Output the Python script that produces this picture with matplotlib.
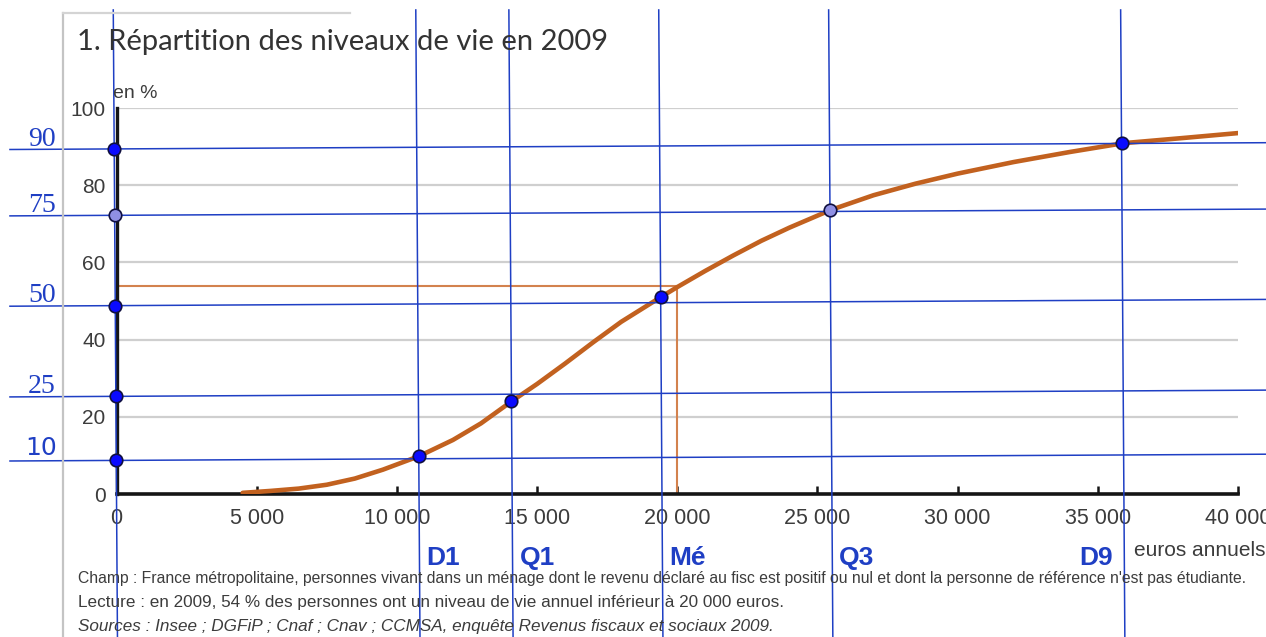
import matplotlib
matplotlib.use('Agg')
import matplotlib.pyplot as plt
import numpy as np

# courbe : niveau de vie annuel (euros) -> part des personnes (%)
curve_euros = [4500, 5500, 6500, 7500, 8500, 9500, 10790, 12000, 13000, 14110,
               15000, 16000, 17000, 18000, 19410, 20000, 21000, 22000, 23000,
               24000, 25480, 27000, 28500, 30000, 32000, 34000, 35930, 38000, 40000]
curve_pct = [0.3, 0.8, 1.4, 2.4, 4.0, 6.3, 9.8, 14.0, 18.3, 24.1,
             28.5, 33.8, 39.3, 44.6, 51.0, 53.6, 57.8, 61.8, 65.6,
             69.0, 73.6, 77.4, 80.4, 83.0, 86.0, 88.6, 90.9, 92.2, 93.5]

# lecture : 54 % sous 20 000 euros
reading_euros = 20000
reading_pct = 54

# surcharge bleue (quantiles)
level_labels = ['10', '25', '50', '75', '90']
level_heights = [8.7, 25.3, 48.8, 72.2, 89.4]     # hauteur des droites sur l'axe
quantile_names = ['D1', 'Q1', 'Mé', 'Q3', 'D9']
quantile_euros = [10790, 14110, 19455, 25515, 35930]
quantile_pct = [9.8, 24.1, 51.0, 73.6, 90.9]     # points sur la courbe

x_ticks = [0, 5000, 10000, 15000, 20000, 25000, 30000, 35000, 40000]
x_ticklabels = ['0', '5 000', '10 000', '15 000', '20 000', '25 000', '30 000', '35 000', '40 000']
y_ticks = [0, 20, 40, 60, 80, 100]

title = '1. Répartition des niveaux de vie en 2009'
notes = [
    "Champ : France métropolitaine, personnes vivant dans un ménage dont le revenu déclaré au fisc est positif ou nul et dont la personne de référence n'est pas étudiante.",
    "Lecture : en 2009, 54 % des personnes ont un niveau de vie annuel inférieur à 20 000 euros.",
    "Sources : Insee ; DGFiP ; Cnaf ; Cnav ; CCMSA, enquête Revenus fiscaux et sociaux 2009.",
]

W, H = 1266, 637
narrow = ['Liberation Sans Narrow', 'Liberation Sans', 'DejaVu Sans']
grey_txt = '#3c3c3c'
blue = '#1f3fc4'
orange = '#c2611f'


def fx(px):
    return px / W


def fy(py):
    return 1 - py / H


fig = plt.figure(figsize=(W / 100, H / 100), dpi=100, facecolor='white')
ax = fig.add_axes([fx(116.5), fy(494), (1238 - 116.5) / W, (494 - 108) / H])
ax.set_xlim(0, 40000)
ax.set_ylim(0, 100)

# cadre gris de la page scannée
fig.add_artist(plt.Line2D([fx(63), fx(63)], [fy(13), fy(637)], color='#c4c4c4', lw=1.6))
fig.add_artist(plt.Line2D([fx(63), fx(350)], [fy(13), fy(13)], color='#d4d4d4', lw=1.6))

for s in ['top', 'right']:
    ax.spines[s].set_visible(False)
ax.spines['left'].set_linewidth(2.4)
ax.spines['bottom'].set_linewidth(2.6)
ax.spines['left'].set_color('#151515')
ax.spines['bottom'].set_color('#151515')

for g in y_ticks[1:]:
    ax.axhline(g, color='#cfcfcf', lw=1.6, zorder=0)

ax.set_xticks(x_ticks)
ax.set_xticklabels(x_ticklabels, family=narrow, fontsize=15.5, color=grey_txt)
ax.set_yticks(y_ticks)
ax.set_yticklabels([str(v) for v in y_ticks], family=narrow, fontsize=15, color=grey_txt)
ax.tick_params(axis='x', direction='in', length=6, width=1.8, color='#151515', pad=10)
ax.tick_params(axis='y', length=0, pad=8)

# courbe et lecture de la médiane
ax.plot(curve_euros, curve_pct, color=orange, lw=3.3, solid_capstyle='round', zorder=3)
ax.plot([0, reading_euros, reading_euros], [reading_pct, reading_pct, 0],
        color='#d3824e', lw=1.5, zorder=2)

# surcharge bleue, légèrement de travers
tilt_h = 3.93e-5   # % par euro
tilt_v = -0.92     # euro par %
y_top, y_bot = 125.4, -40
x_left, x_right = -3800, 46000

ax.plot([tilt_v * y_bot, tilt_v * y_top], [y_bot, y_top], color=blue, lw=1.1, clip_on=False, zorder=4)
for v in quantile_euros:
    ax.plot([v + tilt_v * y_bot, v + tilt_v * y_top], [y_bot, y_top],
            color=blue, lw=1.1, clip_on=False, zorder=4)
for h in level_heights:
    ax.plot([x_left, x_right], [h + tilt_h * x_left, h + tilt_h * x_right],
            color=blue, lw=1.1, clip_on=False, zorder=4)

for lab, h in zip(level_labels, level_heights):
    y_lab = h + tilt_h * x_left
    if lab == '10':
        ax.annotate(lab, xy=(x_left, y_lab), xytext=(11, 0.5), textcoords='offset points',
                    family='DejaVu Sans', fontsize=18, color=blue, ha='left', va='bottom',
                    annotation_clip=False)
    else:
        ax.annotate(lab, xy=(x_left, y_lab), xytext=(13, -1.5), textcoords='offset points',
                    family='Liberation Serif', fontsize=20, color=blue, ha='left', va='bottom',
                    annotation_clip=False)

pt_colors = ['#0a0aff', '#0a0aff', '#0a0aff', '#9090e4', '#0a0aff']
for h, c in zip(level_heights, pt_colors):
    ax.plot(tilt_v * h, h, 'o', ms=9, mfc=c, mec='#101040', mew=1.2, clip_on=False, zorder=6)
for v, p, c in zip(quantile_euros, quantile_pct, pt_colors):
    ax.plot(v + tilt_v * p, p, 'o', ms=9, mfc=c, mec='#101040', mew=1.2, clip_on=False, zorder=6)

y_names = -16.6
for n, v in zip(quantile_names, quantile_euros):
    xv = v + tilt_v * y_names
    if n == 'D9':
        ax.annotate(n, xy=(xv, y_names), xytext=(-8, 0), textcoords='offset points',
                    ha='right', va='center', fontsize=19, fontweight='bold', color=blue,
                    family=['Liberation Sans', 'DejaVu Sans'], annotation_clip=False)
    else:
        ax.annotate(n, xy=(xv, y_names), xytext=(5, 0), textcoords='offset points',
                    ha='left', va='center', fontsize=19, fontweight='bold', color=blue,
                    family=['Liberation Sans', 'DejaVu Sans'], annotation_clip=False)

# textes
fig.text(fx(77), fy(42), title, family=['Lato', 'DejaVu Sans'], fontsize=21,
         color='#333333', va='center', ha='left')
fig.text(fx(113), fy(93), 'en %', family=narrow, fontsize=14, color=grey_txt, va='center')
fig.text(fx(1265), fy(551), 'euros annuels', family=narrow, fontsize=15, color=grey_txt,
         va='center', ha='right')

fig.text(fx(78), fy(578), notes[0], family=narrow, fontsize=11.3, color=grey_txt, va='center')
fig.text(fx(78), fy(603), notes[1], family=narrow, fontsize=12.3, color=grey_txt, va='center')
fig.text(fx(78), fy(626), notes[2], family=narrow, fontsize=12.3, color=grey_txt,
         va='center', style='italic')

fig.savefig('out.png', dpi=100, facecolor='white')
